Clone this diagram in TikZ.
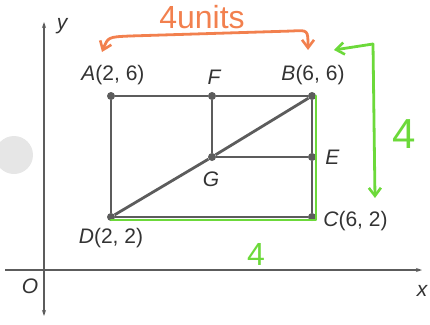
\documentclass[tikz,border=0pt]{standalone}
\usepackage{fontspec}
\setmainfont{Liberation Sans}
\usetikzlibrary{arrows.meta,positioning}
\definecolor{GridInk}{HTML}{5C5C5C}
\definecolor{TextInk}{HTML}{333333}
\definecolor{PenOrange}{HTML}{F2804E}
\definecolor{PenGreen}{HTML}{6CD93A}
\definecolor{PunchGray}{HTML}{E6E6E6}
\tikzset{
  vertex/.style={circle,fill=GridInk,inner sep=0pt,minimum size=8pt},
  edge/.style={GridInk,line width=2.8pt},
  axis/.style={GridInk,line width=2pt},
  ptlabel/.style={font=\fontsize{21}{23}\selectfont,text=TextInk,inner sep=1pt},
  pen/.style={line width=2.8pt,line cap=round,line join=round},
  handtip/.style={-{Straight Barb[length=8pt,width=12pt,line width=2.6pt]}},
}

\begin{document}
\begin{tikzpicture}[x=1pt,y=-1pt]
  \useasboundingbox (0,0) rectangle (430,324);
  % punched hole in the page
  \fill[PunchGray] (14,155) circle (19);

  % axes
  \coordinate (ybot) at (44,316);
  \coordinate (ytop) at (44,22);
  \coordinate (xlft) at (5,270);
  \coordinate (xrgt) at (422,270);
  \draw[axis,{Stealth[length=6pt,width=4pt]}-{Stealth[length=6pt,width=4pt]}] (ybot) -- (ytop);
  \draw[axis,-{Stealth[length=6pt,width=4pt]}] (xlft) -- (xrgt);
  \node[ptlabel] (O) at (30,286) {\itshape O};
  \node[ptlabel] (xlab) at (422,291) {\itshape x};
  \node[ptlabel] (ylab) at (62,26) {\itshape y};

  % rectangle ABCD
  \node[vertex] (A) at (111,96) {};
  \node[vertex] (B) at (312,96) {};
  \node[vertex] (C) at (312,217) {};
  \node[vertex] (D) at (111,217) {};
  \node[vertex] (F) at (212,96) {};
  \node[vertex] (G) at (212,157) {};
  \node[vertex] (E) at (312,157) {};
  \draw[edge] (A) -- (F) -- (B) -- (E) -- (C) -- (D) -- (A);
  \draw[edge] (F) -- (G) -- (E);
  \draw[edge] (D) -- (G) -- (B);

  \node[ptlabel,above=6pt of A,xshift=2pt] (labA) {\itshape A\upshape(2, 6)};
  \node[ptlabel,above=6pt of F,xshift=2pt] (labF) {\itshape F};
  \node[ptlabel,above=6pt of B,xshift=1pt] (labB) {\itshape B\upshape(6, 6)};
  \node[ptlabel,right=8pt of E] (labE) {\itshape E};
  \node[ptlabel,below=9pt of G,xshift=-1pt] (labG) {\itshape G};
  \node[ptlabel,below=6pt of D] (labD) {\itshape D\upshape(2, 2)};
  \node[ptlabel,right=6pt of C,yshift=-4pt] (labC) {\itshape C\upshape(6, 2)};

  % orange note: width of AB
  \coordinate (oL) at (102,52);
  \coordinate (oR) at (308,50);
  \draw[pen,PenOrange,handtip] (130,36) .. controls (108,37) .. (oL);
  \draw[pen,PenOrange,handtip] (130,36) -- (292,31) .. controls (308,30) .. (oR);
  \node[font=\fontsize{32}{34}\selectfont,text=PenOrange] (units) at (202,17) {4units};

  % green notes: height BC and width DC
  \draw[pen,PenGreen] ([xshift=4pt]B.center) -- ([xshift=4pt,yshift=-3pt]C.center)
    -- ([yshift=-3pt]D.center);
  \coordinate (gL) at (334,50);
  \coordinate (gB) at (375,198);
  \draw[pen,PenGreen,handtip] (373,44) -- (gL);
  \draw[pen,PenGreen,handtip] (373,44) -- (gB);
  \node[font=\fontsize{42}{44}\selectfont,text=PenGreen] (four1) at (404,134) {4};
  \node[font=\fontsize{32}{34}\selectfont,text=PenGreen] (four2) at (256,254) {4};
\end{tikzpicture}
\end{document}
